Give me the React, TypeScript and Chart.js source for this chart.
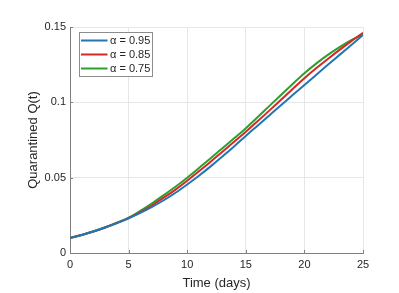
import React, { useEffect, useRef } from "react";
import { Chart, registerables } from "chart.js";

Chart.register(...registerables);

const days = [0,1,2,3,4,5,6,7,8,9,10,11,12,13,14,15,16,17,18,19,20,21,22,23,24,25];
const q095 = [0.0100,0.0120,0.0143,0.0169,0.0198,0.0230,0.0266,0.0306,0.0350,0.0400,0.0455,0.0513,0.0575,0.0640,0.0707,0.0777,0.0845,0.0913,0.0981,0.1048,0.1115,0.1182,0.1249,0.1315,0.1381,0.1447];
const q085 = [0.0100,0.0120,0.0143,0.0169,0.0199,0.0232,0.0272,0.0317,0.0367,0.0421,0.0480,0.0542,0.0606,0.0672,0.0738,0.0805,0.0874,0.0945,0.1017,0.1089,0.1160,0.1226,0.1288,0.1348,0.1406,0.1462];
const q075 = [0.0100,0.0120,0.0144,0.0171,0.0202,0.0235,0.0280,0.0330,0.0384,0.0440,0.0500,0.0564,0.0629,0.0695,0.0761,0.0828,0.0901,0.0975,0.1049,0.1122,0.1193,0.1257,0.1315,0.1367,0.1413,0.1450];
const seriesLabels = ["α = 0.95", "α = 0.85", "α = 0.75"];
const seriesColors = ["#1f77b4", "#d62728", "#2ca02c"];
const xTicks = [0, 5, 10, 15, 20, 25];
const yTicks = [0, 0.05, 0.1, 0.15];

const FONT = "'Liberation Sans', Arial, Helvetica, sans-serif";

const decorPlugin = {
  id: "decor",
  afterDraw(chart: any) {
    const ctx = chart.ctx;
    const xs = chart.scales.x;
    const ys = chart.scales.y;
    const ca = chart.chartArea;
    ctx.save();
    // inward tick marks
    ctx.strokeStyle = "#808080";
    ctx.lineWidth = 1;
    ctx.beginPath();
    xTicks.forEach((t) => {
      const px = Math.round(xs.getPixelForValue(t)) + 0.5;
      ctx.moveTo(px, ca.bottom);
      ctx.lineTo(px, ca.bottom - 3);
    });
    yTicks.forEach((t) => {
      const py = Math.round(ys.getPixelForValue(t)) + 0.5;
      ctx.moveTo(ca.left, py);
      ctx.lineTo(ca.left + 3, py);
    });
    ctx.stroke();
    // legend
    const bx = 79.5, by = 32.5, bw = 73, bh = 44;
    ctx.fillStyle = "#ffffff";
    ctx.fillRect(bx, by, bw, bh);
    ctx.strokeStyle = "#8c8c8c";
    ctx.strokeRect(bx, by, bw, bh);
    ctx.font = "11px " + FONT;
    ctx.textBaseline = "middle";
    ctx.textAlign = "left";
    const rows = [40.5, 54.5, 68.5];
    seriesLabels.forEach((lab, i) => {
      ctx.strokeStyle = seriesColors[i];
      ctx.lineWidth = 2;
      ctx.beginPath();
      ctx.moveTo(81, rows[i]);
      ctx.lineTo(107.5, rows[i]);
      ctx.stroke();
      ctx.fillStyle = "#262626";
      ctx.fillText(lab, 110, rows[i] + 0.5);
    });
    ctx.restore();
  },
};

export default function App() {
  const ref = useRef<HTMLCanvasElement>(null);
  useEffect(() => {
    document.body.style.margin = "0";
    const chart = new Chart(ref.current as HTMLCanvasElement, {
      type: "line",
      data: {
        datasets: [q095, q085, q075].map((arr, i) => ({
          label: seriesLabels[i],
          data: days.map((d, j) => ({ x: d, y: arr[j] })),
          borderColor: seriesColors[i],
          backgroundColor: seriesColors[i],
          borderWidth: 2,
          pointRadius: 0,
          cubicInterpolationMode: "monotone",
          fill: false,
        })),
      },
      options: {
        animation: false,
        responsive: false,
        devicePixelRatio: 1,
        layout: { padding: { top: 27, right: 36, left: 0, bottom: 0 } },
        plugins: {
          legend: { display: false },
          tooltip: { enabled: false },
        },
        scales: {
          x: {
            type: "linear",
            min: 0,
            max: 25,
            afterBuildTicks: (s: any) => { s.ticks = xTicks.map((v) => ({ value: v })); },
            afterFit: (s: any) => { s.height = 40; },
            grid: { color: "#e6e6e6", drawTicks: false, lineWidth: 1 },
            border: { color: "#808080", width: 1 },
            ticks: {
              color: "#262626",
              font: { family: FONT, size: 11 },
              padding: 5,
              maxRotation: 0,
              callback: (v: any) => String(v),
            },
            title: {
              display: true,
              text: "Time (days)",
              color: "#262626",
              font: { family: FONT, size: 13 },
              padding: { top: 0, bottom: 2 },
            },
          },
          y: {
            type: "linear",
            min: 0,
            max: 0.15,
            afterBuildTicks: (s: any) => { s.ticks = yTicks.map((v) => ({ value: v })); },
            afterFit: (s: any) => { s.width = 70; },
            grid: { color: "#e6e6e6", drawTicks: false, lineWidth: 1 },
            border: { color: "#808080", width: 1 },
            ticks: {
              color: "#262626",
              font: { family: FONT, size: 11 },
              padding: 4,
              callback: (v: any) => String(+Number(v).toFixed(2)),
            },
            title: {
              display: true,
              text: "Quarantined Q(t)",
              color: "#262626",
              font: { family: FONT, size: 13 },
              padding: { top: 26, bottom: 0 },
            },
          },
        },
      },
      plugins: [decorPlugin],
    });
    return () => chart.destroy();
  }, []);
  return (
    <div style={{ position: "absolute", left: 0, top: 0, width: 399, height: 293, background: "#fff" }}>
      <canvas ref={ref} width={399} height={293} style={{ width: 399, height: 293 }} />
    </div>
  );
}
